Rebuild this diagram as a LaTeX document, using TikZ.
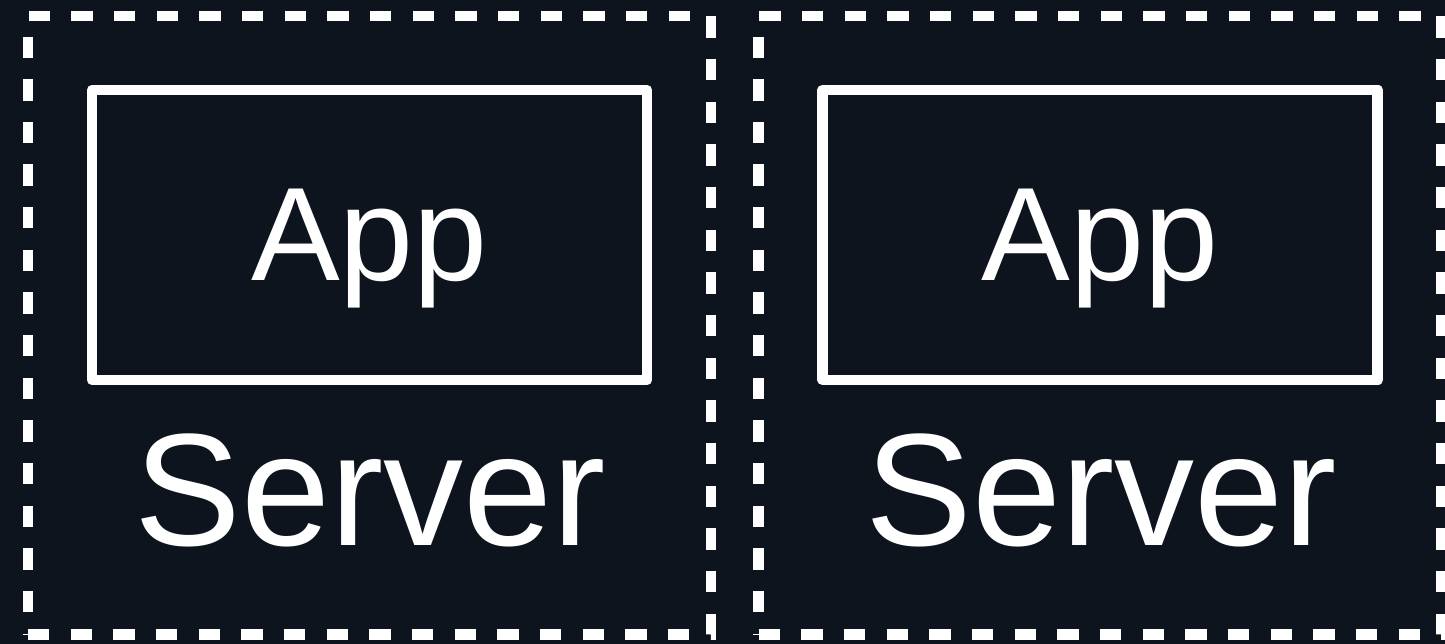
\documentclass[tikz,border=0pt]{standalone}
\usepackage{fontspec}
\setmainfont{Liberation Sans}
\definecolor{bg}{HTML}{0D141E}
\begin{document}
\begin{tikzpicture}[x=1pt,y=-1pt,
  zone/.style={minimum width=683pt, minimum height=618.5pt, inner sep=0pt, outer sep=0pt},
  zoneline/.style={draw=white, line width=10.67pt, dash pattern=on 21.33pt off 21.33pt},
  appbox/.style={draw=white, line width=10.67pt, line join=round,
    minimum width=555pt, minimum height=290pt, inner sep=0pt},
  applabel/.style={text=white, anchor=base, inner sep=0pt,
    font=\fontsize{133}{133}\selectfont},
  serverlabel/.style={text=white, anchor=base, inner sep=0pt,
    font=\fontsize{160}{160}\selectfont}]
\fill[bg] (0,0) rectangle (1445,644);
\useasboundingbox (0,0) rectangle (1445,644);
% left server
\node[zone] (zoneA) at (369.5,325.25) {};
\draw[zoneline] (zoneA.south west) -- (zoneA.south east) -- (zoneA.north east) -- (zoneA.north west) -- cycle;
\node[appbox] (boxA) at (369.5,235) {};
\node[applabel] (appA) at (369.5,280) {App};
\node[serverlabel] (srvA) at (370.5,545) {Server};
% right server
\node[zone] (zoneB) at (1100.1,325.25) {};
\draw[zoneline] (zoneB.south west) -- (zoneB.south east) -- (zoneB.north east) -- (zoneB.north west) -- cycle;
\node[appbox] (boxB) at (1100.3,235) {};
\node[applabel] (appB) at (1100.3,280) {App};
\node[serverlabel] (srvB) at (1101.3,545) {Server};
\end{tikzpicture}
\end{document}
